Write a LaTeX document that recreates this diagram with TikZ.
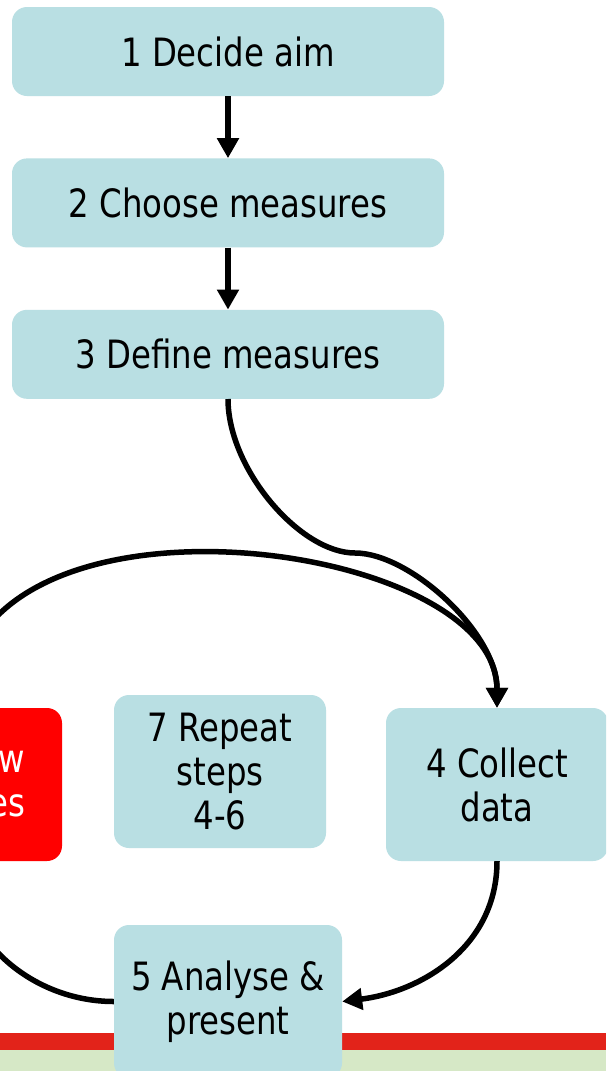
\documentclass[tikz,border=0pt]{standalone}
\usepackage{fontspec}
\setmainfont{DejaVu Sans}[FakeStretch=0.83]
\usepackage{tikz}
\usetikzlibrary{arrows.meta, positioning}
\definecolor{boxblue}{RGB}{185,223,227}
\definecolor{stripered}{RGB}{226,35,26}
\definecolor{stripegreen}{RGB}{214,232,198}

\begin{document}
\begin{tikzpicture}[x=1pt, y=1pt, node distance=62pt,
    stage/.style={rectangle, rounded corners=15pt, fill=boxblue, minimum width=432pt, minimum height=89pt, inner sep=0pt, font=\fontsize{39}{44}\selectfont},
    phase/.style={stage, minimum width=212pt, minimum height=153pt, align=center},
    flow/.style={line width=5.5pt, -{Triangle[length=20pt, width=21pt]}},
    ring/.style={line width=5.5pt}]

    \useasboundingbox (0,0) rectangle (606,-1071);
    \clip (0,0) rectangle (606,-1071);
    \fill[white] (0,0) rectangle (606,-1071);
    \fill[stripered] (0,-1033) rectangle (606,-1050);
    \fill[stripegreen] (0,-1050) rectangle (606,-1071);

    \node[stage] (aim) at (228,-51.5) {1 Decide aim};
    \node[stage, below=of aim] (choose) {2 Choose measures};
    \node[stage, below=of choose] (define) {3 Define measures};
    \node[phase] (repeat) at (220,-771.5) {7 Repeat\\steps\\4-6};
    \node[phase, minimum width=222pt] (collect) at (497,-784.5) {4 Collect\\data};
    \node[phase, minimum width=228pt] (analyse) at (228,-1001.5) {5 Analyse \&\\present};
    \node[phase, fill=red, text=white, minimum width=204pt, text width=130pt, align=right] (review) at (-40,-784.5) {w\\es};
    \coordinate (bend) at (355,-553);

    \draw[flow] (aim) -- (choose);
    \draw[flow] (choose) -- (define);
    \draw[flow] (define.south) .. controls +(0,-70) and +(-55,0) .. (bend)
        .. controls +(55,0) and +(0,75) .. (collect.north);
    \draw[flow] (review.north) .. controls +(0,237) and +(0,172) .. (collect.north);
    \draw[flow] (collect.south) .. controls +(0,-85) and +(80,10) .. (analyse.east);
    \draw[ring] (review.south) .. controls +(0,-80) and +(-80,0) .. (analyse.west);
\end{tikzpicture}
\end{document}
